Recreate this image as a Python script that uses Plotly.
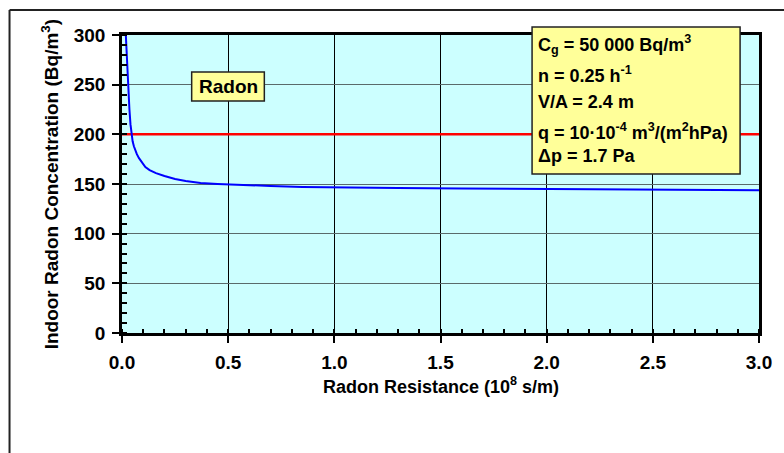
import plotly.graph_objects as go

# Data
resistance = [0.018, 0.022, 0.026, 0.03, 0.035, 0.04, 0.045, 0.05, 0.056, 0.062, 0.07, 0.08, 0.095,
              0.11, 0.13, 0.16, 0.2, 0.25, 0.3, 0.37, 0.45, 0.55, 0.7, 0.85, 1.0,
              1.3, 1.6, 2.0, 2.4, 2.75, 3.0]
concentration = [300, 278, 258, 242, 225, 210, 200, 193, 188, 184, 180, 176, 171,
                 167, 164, 161, 158, 155, 153, 151, 150, 149, 148, 147, 146.5,
                 146, 145.5, 145, 144.8, 144, 143.8]
limit_x = [0, 3]
limit_y = [200, 200]

x_ticks = [0, 0.5, 1.0, 1.5, 2.0, 2.5, 3.0]
x_ticklabels = ["0.0", "0.5", "1.0", "1.5", "2.0", "2.5", "3.0"]
y_ticks = [0, 50, 100, 150, 200, 250, 300]

param_lines = [
    "C<sub>g</sub> = 50 000 Bq/m<sup>3</sup>",
    "n = 0.25 h<sup>-1</sup>",
    "V/A = 2.4 m",
    "q = 10·10<sup>-4</sup> m<sup>3</sup>/(m<sup>2</sup>hPa)",
    "Δp = 1.7 Pa",
]

FONT = "Liberation Sans, Arial, sans-serif"

fig = go.Figure()
fig.add_trace(go.Scatter(x=limit_x, y=limit_y, mode="lines",
                         line=dict(color="#FF0000", width=2.5), hoverinfo="skip"))
fig.add_trace(go.Scatter(x=resistance, y=concentration, mode="lines",
                         line=dict(color="#0000FF", width=2)))

W, H = 784, 453
L, R, T, B = 122, 22, 35, 120
pw, ph = W - L - R, H - T - B

def px(x):
    return (x - L) / pw

def py(y):
    return (H - B - y) / ph

fig.update_layout(
    width=W, height=H,
    margin=dict(l=L, r=R, t=T, b=B),
    paper_bgcolor="white",
    plot_bgcolor="#CCFFFF",
    showlegend=False,
    font=dict(family=FONT, color="black"),
    xaxis=dict(
        range=[0, 3], tickvals=x_ticks, ticktext=x_ticklabels,
        showgrid=True, gridcolor="#000000", gridwidth=1,
        showline=True, linecolor="black", linewidth=2.5, mirror=True,
        ticks="outside", ticklen=7, tickwidth=2, tickcolor="black",
        ticklabelstandoff=3,
        minor=dict(dtick=0.1, ticks="inside", ticklen=4, tickwidth=2, tickcolor="black", showgrid=False),
        tickfont=dict(size=19, family=FONT, weight="bold"),
        zeroline=False, fixedrange=True,
    ),
    yaxis=dict(
        range=[0, 300], tickvals=y_ticks,
        showgrid=True, gridcolor="#5A6A6A", gridwidth=1,
        showline=True, linecolor="black", linewidth=2.5, mirror=True,
        ticks="outside", ticklen=7, tickwidth=2, tickcolor="black",
        ticklabelstandoff=3,
        minor=dict(dtick=10, ticks="inside", ticklen=5, tickwidth=2, tickcolor="black", showgrid=False),
        tickfont=dict(size=19, family=FONT, weight="bold"),
        zeroline=False, fixedrange=True,
    ),
)

shapes = [
    # outer chart border (cropped)
    dict(type="line", xref="paper", yref="paper", x0=px(9), x1=px(9), y0=py(10), y1=py(470),
         line=dict(color="#222222", width=2)),
    dict(type="line", xref="paper", yref="paper", x0=px(9), x1=px(800), y0=py(10), y1=py(10),
         line=dict(color="#222222", width=2)),
    # parameter box
    dict(type="rect", xref="paper", yref="paper", x0=px(534), x1=px(743), y0=py(174), y1=py(27),
         fillcolor="#FFFF99", line=dict(color="#222222", width=1.5), layer="above"),
    # "Radon" label box
    dict(type="rect", xref="paper", yref="paper", x0=px(192), x1=px(265), y0=py(101), y1=py(72),
         fillcolor="#FFFF99", line=dict(color="#222222", width=1.5), layer="above"),
]

annotations = [
    dict(text="Indoor Radon Concentration (Bq/m<sup>3</sup>)", xref="paper", yref="paper",
         x=px(50), y=0.5, textangle=-90, showarrow=False, xanchor="center", yanchor="middle",
         font=dict(size=19, family=FONT, weight="bold")),
    dict(text="Radon Resistance (10<sup>8</sup> s/m)", xref="paper", yref="paper",
         x=0.5, y=py(385), showarrow=False, xanchor="center", yanchor="middle",
         font=dict(size=18, family=FONT, weight="bold")),
    dict(text="Radon", x=px(228.5), y=py(86.5), xref="paper", yref="paper", showarrow=False,
         xanchor="center", yanchor="middle",
         font=dict(size=19, family=FONT, weight="bold")),
]
line_y = [45, 74, 102, 131, 156]
for t, yy in zip(param_lines, line_y):
    annotations.append(dict(text=t, xref="paper", yref="paper", x=px(538), y=py(yy),
                            xanchor="left", yanchor="middle", showarrow=False,
                            font=dict(size=18, family=FONT, weight="bold")))

fig.update_layout(shapes=shapes, annotations=annotations)
fig.write_html("out.html", config={"displayModeBar": False},
               post_script="document.body.style.margin='0';document.body.style.overflow='hidden';")
